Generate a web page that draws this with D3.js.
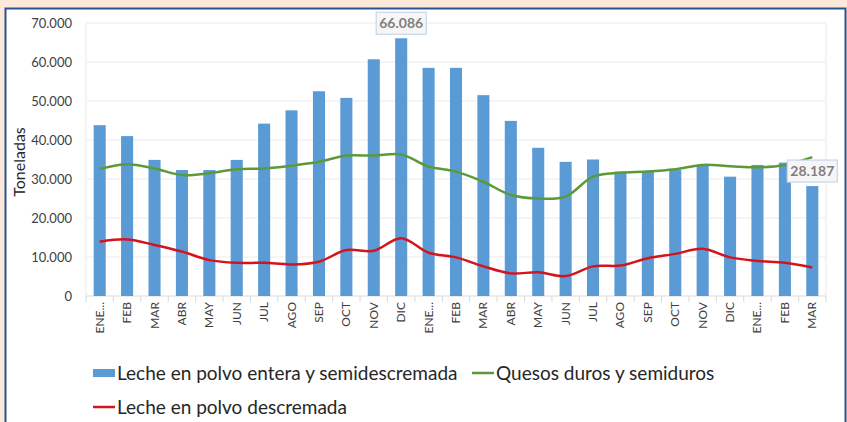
<!DOCTYPE html>
<html>
<head>
<meta charset="utf-8">
<script src="https://cdn.jsdelivr.net/npm/d3@7"></script>
<style>
  body { margin: 0; background: #fce9da; }
  svg { display: block; font-family: "Lato", "Liberation Sans", sans-serif; }
</style>
</head>
<body>
<div id="chart"></div>
<script>
const months = ["ENE...", "FEB", "MAR", "ABR", "MAY", "JUN", "JUL", "AGO", "SEP", "OCT", "NOV", "DIC",
    "ENE...", "FEB", "MAR", "ABR", "MAY", "JUN", "JUL", "AGO", "SEP", "OCT", "NOV", "DIC",
    "ENE...", "FEB", "MAR"];

const lecheEntera = [43800, 41000, 34900, 32300, 32300, 34900, 44200, 47600, 52500, 50800, 60700, 66086,
    58500, 58500, 51500, 44900, 38000, 34400, 35000, 31900, 31900, 32300, 33600, 30600,
    33600, 34200, 28187];

const quesos = [32600, 33800, 32700, 31000, 31500, 32500, 32700, 33400, 34400, 36000, 36000, 36300,
    33200, 31900, 29300, 25900, 25000, 25500, 30600, 31600, 31900, 32500, 33600, 33300,
    33000, 33600, 35600];

const lecheDescremada = [13900, 14500, 13100, 11400, 9200, 8500, 8500, 8100, 8800, 11800, 11600, 14800,
    11100, 9900, 7600, 5800, 6100, 5100, 7600, 7800, 9700, 10800, 12100, 9900,
    9000, 8500, 7300];

const yTicks = [0, 10000, 20000, 30000, 40000, 50000, 60000, 70000];
const labelledBars = [11, 26];

const width = 847;
const height = 422;

const svg = d3.select("#chart").append("svg")
    .attr("width", width)
    .attr("height", height)

// peach frame + white card
svg.append("rect").attr("width", width).attr("height", height).attr("fill", "#fce9da")
svg.append("rect")
    .attr("x", 5.5).attr("y", 8.5)
    .attr("width", 840).attr("height", 430)
    .attr("fill", "white")
    .attr("stroke", "#2b5290")
    .attr("stroke-width", 2)

const plot = { left: 86, right: 826, top: 23, bottom: 296 };

const x = d3.scaleBand()
    .domain(d3.range(months.length))
    .range([plot.left, plot.right])
    .paddingInner(0.56)
    .paddingOuter(0.28)

const y = d3.scaleLinear()
    .domain([0, 70000])
    .range([plot.bottom, plot.top])

const locale = d3.formatLocale({ decimal: ",", thousands: ".", grouping: [3], currency: ["", ""] });
const fmt = locale.format(",.0f");

// gridlines
svg.append("g")
    .selectAll("line")
    .data(yTicks)
    .join("line")
    .attr("x1", plot.left).attr("x2", plot.right)
    .attr("y1", (d) => y(d)).attr("y2", (d) => y(d))
    .attr("stroke", (d) => d === 0 ? "#d9d9d9" : "#ececec")
    .attr("stroke-width", 1.2)

// plot-area border sides
svg.append("line").attr("x1", plot.left).attr("x2", plot.left).attr("y1", plot.top).attr("y2", plot.bottom)
    .attr("stroke", "#ececec").attr("stroke-width", 1.2)
svg.append("line").attr("x1", plot.right).attr("x2", plot.right).attr("y1", plot.top).attr("y2", plot.bottom)
    .attr("stroke", "#ececec").attr("stroke-width", 1.2)

// y axis labels
svg.append("g")
    .selectAll("text")
    .data(yTicks)
    .join("text")
    .attr("x", 72)
    .attr("y", (d) => y(d))
    .attr("dy", "0.35em")
    .attr("text-anchor", "end")
    .attr("font-size", 13)
    .attr("fill", "#404040")
    .text((d) => fmt(d))

svg.append("text")
    .attr("transform", "translate(25, 162) rotate(-90)")
    .attr("text-anchor", "middle")
    .attr("font-size", 16)
    .attr("fill", "#262626")
    .text("Toneladas")

// category separator ticks
const step = x.step();
svg.append("g")
    .selectAll("line")
    .data(d3.range(months.length + 1))
    .join("line")
    .attr("x1", (i) => plot.left + i * step).attr("x2", (i) => plot.left + i * step)
    .attr("y1", plot.bottom).attr("y2", plot.bottom + 6)
    .attr("stroke", "#d9d9d9")

// x labels
svg.append("g")
    .selectAll("text")
    .data(months)
    .join("text")
    .attr("transform", (d, i) => `translate(${x(i) + x.bandwidth() / 2 + 4}, 302) rotate(-90)`)
    .attr("text-anchor", "end")
    .attr("font-size", 12)
    .attr("fill", "#404040")
    .text((d) => d)

// bars
svg.append("g")
    .selectAll("rect")
    .data(lecheEntera)
    .join("rect")
    .attr("x", (d, i) => x(i))
    .attr("y", (d) => y(d))
    .attr("width", x.bandwidth())
    .attr("height", (d) => y(0) - y(d))
    .attr("fill", "#5b9bd5")

// lines
const line = d3.line()
    .x((d, i) => x(i) + x.bandwidth() / 2)
    .y((d) => y(d))
    .curve(d3.curveCatmullRom.alpha(0.5))

svg.append("path")
    .datum(quesos)
    .attr("d", line)
    .attr("fill", "none")
    .attr("stroke", "#5a9a3a")
    .attr("stroke-width", 2.5)

svg.append("path")
    .datum(lecheDescremada)
    .attr("d", line)
    .attr("fill", "none")
    .attr("stroke", "#d4141c")
    .attr("stroke-width", 2.5)

// data labels
const labels = svg.append("g")
    .selectAll("g")
    .data(labelledBars)
    .join("g")
    .attr("transform", (i) => `translate(${x(i) + x.bandwidth() / 2}, ${y(lecheEntera[i]) - 15})`)

labels.append("rect")
    .attr("x", -25).attr("y", -11)
    .attr("width", 50).attr("height", 22)
    .attr("fill", "#f6f6f6")
    .attr("stroke", "#c6d6ec")
    .attr("stroke-width", 1.2)

labels.append("text")
    .attr("text-anchor", "middle")
    .attr("dy", "0.36em")
    .attr("font-size", 14)
    .attr("font-weight", "bold")
    .attr("fill", "#7f7f7f")
    .text((i) => fmt(lecheEntera[i]))

// legend
const legendItems = [
    { name: "Leche en polvo entera y semidescremada", type: "bar", colour: "#5b9bd5", x: 93, y: 373 },
    { name: "Quesos duros y semiduros", type: "line", colour: "#5a9a3a", x: 472, y: 373 },
    { name: "Leche en polvo descremada", type: "line", colour: "#d4141c", x: 93, y: 407 }
];

const legend = svg.append("g")
    .selectAll("g")
    .data(legendItems)
    .join("g")
    .attr("transform", (d) => `translate(${d.x}, ${d.y})`)

legend.filter((d) => d.type === "bar").append("rect")
    .attr("x", 0).attr("y", -4)
    .attr("width", 22).attr("height", 8)
    .attr("fill", (d) => d.colour)

legend.filter((d) => d.type === "line").append("line")
    .attr("x1", 0).attr("x2", 22)
    .attr("stroke", (d) => d.colour)
    .attr("stroke-width", 2.5)

legend.append("text")
    .attr("x", 24)
    .attr("dy", "0.35em")
    .attr("font-size", 19)
    .attr("fill", "#262626")
    .text((d) => d.name)
</script>
</body>
</html>
